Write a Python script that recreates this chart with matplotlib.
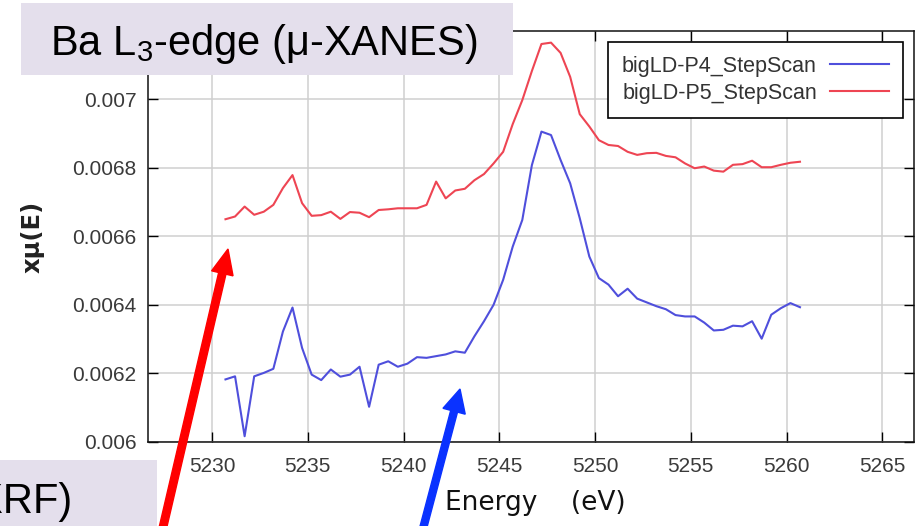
import matplotlib
matplotlib.use("Agg")
import matplotlib.pyplot as plt
from matplotlib.patches import Rectangle, FancyArrow
from matplotlib.transforms import IdentityTransform

plt.rcParams['font.family'] = ['Liberation Sans', 'DejaVu Sans']
plt.rcParams['mathtext.fontset'] = 'custom'
plt.rcParams['mathtext.rm'] = 'Liberation Sans'
plt.rcParams['mathtext.it'] = 'Liberation Sans:italic'

# Step-scan energy grid (eV)
energy = [
    5230.7, 5231.2, 5231.7, 5232.2, 5232.7, 5233.2, 5233.7, 5234.2, 5234.7, 5235.2,
    5235.7, 5236.2, 5236.7, 5237.2, 5237.7, 5238.2, 5238.7, 5239.2, 5239.7, 5240.2,
    5240.7, 5241.2, 5241.7, 5242.2, 5242.7, 5243.2, 5243.7, 5244.2, 5244.7, 5245.2,
    5245.7, 5246.2, 5246.7, 5247.2, 5247.7, 5248.2, 5248.7, 5249.2, 5249.7, 5250.2,
    5250.7, 5251.2, 5251.7, 5252.2, 5252.7, 5253.2, 5253.7, 5254.2, 5254.7, 5255.2,
    5255.7, 5256.2, 5256.7, 5257.2, 5257.7, 5258.2, 5258.7, 5259.2, 5259.7, 5260.2,
    5260.7,
]

p4_stepscan = [
    0.006182, 0.006191, 0.006016, 0.006191, 0.006201, 0.006213, 0.006322, 0.006392, 0.006274, 0.006196,
    0.006180, 0.006211, 0.006190, 0.006196, 0.006219, 0.006102, 0.006225, 0.006235, 0.006219, 0.006228,
    0.006247, 0.006245, 0.006250, 0.006255, 0.006264, 0.006260, 0.006308, 0.006352, 0.006400, 0.006473,
    0.006570, 0.006648, 0.006808, 0.006906, 0.006896, 0.006823, 0.006755, 0.006653, 0.006541, 0.006478,
    0.006459, 0.006425, 0.006447, 0.006418, 0.006407, 0.006396, 0.006387, 0.006370, 0.006366, 0.006366,
    0.006348, 0.006325, 0.006327, 0.006339, 0.006337, 0.006352, 0.006301, 0.006371, 0.006390, 0.006405,
    0.006393,
]

p5_stepscan = [
    0.006650, 0.006658, 0.006687, 0.006663, 0.006672, 0.006692, 0.006741, 0.006779, 0.006697, 0.006660,
    0.006662, 0.006672, 0.006651, 0.006671, 0.006669, 0.006656, 0.006677, 0.006679, 0.006682, 0.006682,
    0.006682, 0.006692, 0.006760, 0.006711, 0.006734, 0.006739, 0.006764, 0.006782, 0.006813, 0.006847,
    0.006928, 0.006998, 0.007083, 0.007162, 0.007166, 0.007136, 0.007066, 0.006957, 0.006921, 0.006881,
    0.006867, 0.006864, 0.006847, 0.006838, 0.006843, 0.006844, 0.006835, 0.006831, 0.006813, 0.006799,
    0.006804, 0.006792, 0.006789, 0.006809, 0.006811, 0.006821, 0.006802, 0.006802, 0.006809, 0.006815,
    0.006818,
]

series_labels = ['bigLD-P4_StepScan', 'bigLD-P5_StepScan']
x_ticks = [5230, 5235, 5240, 5245, 5250, 5255, 5260, 5265]
y_ticks = [0.006, 0.0062, 0.0064, 0.0066, 0.0068, 0.007]
y_tick_labels = ['0.006', '0.0062', '0.0064', '0.0066', '0.0068', '0.007']

W, H = 923, 526
fig = plt.figure(figsize=(W / 100, H / 100), dpi=100)
ax = fig.add_axes([148.3 / W, 1 - 441.7 / H, 766 / W, 410.7 / H])

ax.plot(energy, p4_stepscan, color='#4f4fdc', lw=1.5, label=series_labels[0], zorder=3)
ax.plot(energy, p5_stepscan, color='#ee4553', lw=1.5, label=series_labels[1], zorder=3)

ax.set_xlim(5226.67, 5266.67)
ax.set_ylim(0.006, 0.0072)
ax.set_xticks(x_ticks)
ax.set_xticklabels([str(t) for t in x_ticks])
ax.set_yticks(y_ticks)
ax.set_yticklabels(y_tick_labels)

ax.set_axisbelow(True)
ax.grid(True, color='#cfcfcf', lw=1.1)
for s in ax.spines.values():
    s.set_linewidth(1.1)
    s.set_color('#111111')
ax.tick_params(direction='in', length=7, width=1.0, top=True, right=True,
               labelsize=15, labelcolor='#3a3a3a')
ax.tick_params(axis='x', pad=11)
ax.tick_params(axis='y', pad=8.4)

ax.set_xlabel('Energy    (eV)', family='DejaVu Sans', fontsize=19,
              color='#111111', va='center')
ax.xaxis.set_label_coords((535 - 148.3) / 766, (441.7 - 503) / 410.7)
ax.set_ylabel('xμ(E)', family='DejaVu Sans', weight='bold', fontsize=17.5,
              color='#222222', va='center', ha='center')
ax.yaxis.set_label_coords((32.5 - 148.3) / 766, (441.7 - 236.7) / 410.7)

leg = ax.legend(loc='upper right', bbox_to_anchor=(0.9853, 0.9732), borderaxespad=0,
                frameon=True, fancybox=False, edgecolor='black', framealpha=1,
                markerfirst=False, handlelength=2.75, handletextpad=0.6,
                borderpad=0.65, labelspacing=0.28, prop={'size': 15.5})
leg.get_frame().set_linewidth(1.2)
for t in leg.get_texts():
    t.set_color('#333333')

# Label boxes
box_color = '#e4dfec'
fig.add_artist(Rectangle((20.7 / W, 1 - 75 / H), 492.3 / W, 72.3 / H,
                         transform=fig.transFigure, facecolor=box_color,
                         edgecolor='none', zorder=5))
fig.text(50 / W, 1 - 55 / H, r'Ba L$_\mathrm{3}$-edge (μ-XANES)', fontsize=30,
         ha='left', va='baseline', color='black', zorder=6)
fig.add_artist(Rectangle((0, 0), 156.7 / W, 66 / H, transform=fig.transFigure,
                         facecolor=box_color, edgecolor='none', zorder=5))
fig.text(72 / W, 1 - 513 / H, 'Ba (μ-XRF)', fontsize=30, ha='right', va='baseline',
         color='black', zorder=6)

# Pointer arrows (display pixels, origin bottom-left)
fig.add_artist(FancyArrow(160, -14, 228 - 160, (H - 249) + 14, width=7.5,
                          head_width=22, head_length=25, length_includes_head=True,
                          color='#ff0000', transform=IdentityTransform(), zorder=7))
fig.add_artist(FancyArrow(420, -14, 460 - 420, (H - 389) + 14, width=7,
                          head_width=23, head_length=23, length_includes_head=True,
                          color='#0a32ff', transform=IdentityTransform(), zorder=7))

fig.savefig('out.png', dpi=100, facecolor='white')
